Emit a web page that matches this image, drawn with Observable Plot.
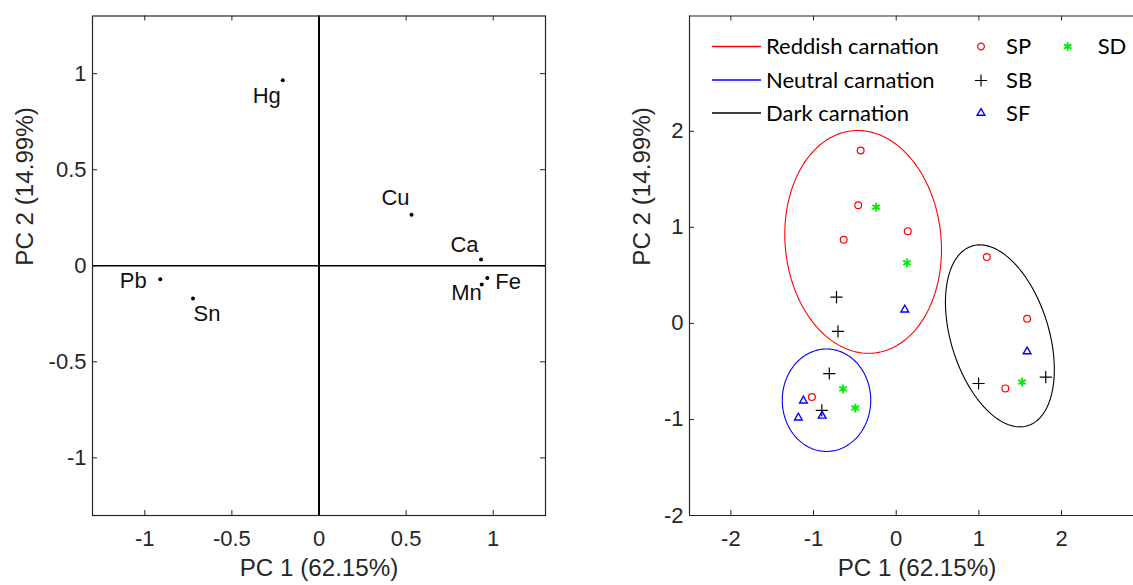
<!DOCTYPE html>
<html><head><meta charset="utf-8">
<script src="https://cdn.jsdelivr.net/npm/d3@7"></script>
<script src="https://cdn.jsdelivr.net/npm/@observablehq/plot@0.6"></script>
<style>
html,body{margin:0;padding:0;background:#fff;overflow:hidden;}
#wrap{position:relative;width:1133px;height:585px;overflow:hidden;background:#fff;}
#left{position:absolute;left:0;top:0;}
#right{position:absolute;left:567px;top:0;}
#legend{position:absolute;left:567px;top:0;pointer-events:none;}
</style></head>
<body><div id="wrap"><div id="left"></div><div id="right"></div><svg id="legend" width="566" height="140"></svg></div>
<script>
// ---------- Data: loadings (left panel) ----------
const elements = ["Hg", "Cu", "Ca", "Fe", "Mn", "Pb", "Sn"];
const loadPC1 = [-0.208, 0.531, 0.930, 0.966, 0.934, -0.911, -0.723];
const loadPC2 = [0.966, 0.265, 0.033, -0.064, -0.097, -0.070, -0.170];
const loadTicks = [-1, -0.5, 0, 0.5, 1];
const loadDomain = [-1.3, 1.3];

// ---------- Data: scores (right panel) ----------
const spPC1 = [-0.43, -0.46, -0.635, 0.14, 1.096, 1.583, 1.32, -1.02];
const spPC2 = [1.80, 1.23, 0.87, 0.96, 0.69, 0.049, -0.677, -0.766];
const sbPC1 = [-0.722, -0.704, -0.809, -0.90, 0.996, 1.809];
const sbPC2 = [0.274, -0.083, -0.522, -0.906, -0.626, -0.560];
const sfPC1 = [0.104, 1.583, -1.122, -1.183, -0.896];
const sfPC2 = [0.142, -0.293, -0.805, -0.982, -0.963];
const sdPC1 = [-0.243, 0.13, -0.643, -0.496, 1.522];
const sdPC2 = [1.21, 0.63, -0.681, -0.882, -0.611];
const scoreXTicks = [-2, -1, 0, 1, 2];
const scoreYTicks = [-2, -1, 0, 1, 2];
const scoreXDomain = [-2.5, 2.87];
const scoreYDomain = [-2, 3.2];

// confidence ellipses (center, semi-axes, rotation in degrees)
const groupNames = ["Reddish carnation", "Neutral carnation", "Dark carnation"];
const ellCX = [-0.40, -0.843, 1.254];
const ellCY = [0.848, -0.80, -0.13];
const ellA = [1.165, 0.535, 0.996];
const ellB = [0.941, 0.533, 0.582];
const ellAngle = [-80.7, 0, -67.6];

const seriesNames = ["SP", "SB", "SF", "SD"];
const axisLabelX = "PC 1 (62.15%)";
const axisLabelY = "PC 2 (14.99%)";

// ---------- styles ----------
const font = "'Liberation Sans', Arial, sans-serif";
const legendFont = "Lato, 'Open Sans', sans-serif";
const axisColor = "#262626";
const groupColors = ["#ff0000", "#0000ff", "#000000"];
const seriesStyle = {
  SP: {symbol: "circle", r: 3.4, stroke: "#ff0000", strokeWidth: 1.2},
  SB: {symbol: "plus", r: 4, stroke: "#000000", strokeWidth: 1.2},
  SF: {symbol: "triangle2", r: 3.7, stroke: "#0000ff", strokeWidth: 1.4},
  SD: {symbol: "asterisk", r: 4.1, stroke: "#00ee00", strokeWidth: 1.9}
};
const labelLayout = {
  Hg: {textAnchor: "end", dx: -2, dy: 16},
  Cu: {textAnchor: "end", dx: -2, dy: -17},
  Ca: {textAnchor: "end", dx: -2.5, dy: -14},
  Fe: {textAnchor: "start", dx: 8, dy: 4},
  Mn: {textAnchor: "end", dx: 0, dy: 9},
  Pb: {textAnchor: "end", dx: -13.5, dy: 1.5},
  Sn: {textAnchor: "start", dx: 0.5, dy: 16}
};
const fmt = d => String(d);
const H = 585, mt = 15.5, mb = 70, tickLen = 5;
const innerH = H - mt - mb;

// ---------- Left panel ----------
const W1 = 567, ml1 = 92, mr1 = 22, innerW1 = W1 - ml1 - mr1;
const loadings = elements.map((name, i) => ({name, pc1: loadPC1[i], pc2: loadPC2[i]}));

const left = Plot.plot({
  width: W1, height: H, marginTop: mt, marginBottom: mb, marginLeft: ml1, marginRight: mr1,
  style: {fontFamily: font, fontSize: "22px", color: axisColor, background: "white", overflow: "visible"},
  x: {domain: loadDomain},
  y: {domain: loadDomain},
  marks: [
    Plot.axisX({ticks: loadTicks, tickSize: 0, tickPadding: 15, label: null, tickFormat: fmt, fontSize: 22}),
    Plot.axisY({ticks: loadTicks, tickSize: 0, tickPadding: 6, label: null, tickFormat: fmt, fontSize: 22}),
    Plot.tickX(loadTicks, {x: d => d, insetTop: innerH - tickLen, stroke: axisColor}),
    Plot.tickX(loadTicks, {x: d => d, insetBottom: innerH - tickLen, stroke: axisColor}),
    Plot.tickY(loadTicks, {y: d => d, insetRight: innerW1 - tickLen, stroke: axisColor}),
    Plot.tickY(loadTicks, {y: d => d, insetLeft: innerW1 - tickLen, stroke: axisColor}),
    Plot.ruleX([0], {stroke: "#000", strokeWidth: 2}),
    Plot.ruleY([0], {stroke: "#000", strokeWidth: 1.5}),
    Plot.frame({stroke: axisColor, strokeWidth: 1.2}),
    Plot.dot(loadings, {x: "pc1", y: "pc2", r: 2, fill: "#000"}),
    ...elements.map(name => Plot.text(loadings.filter(d => d.name === name), {
      x: "pc1", y: "pc2", text: "name", fontSize: 22, fill: "#111", ...labelLayout[name]
    })),
    Plot.text([axisLabelX], {text: d => d, frameAnchor: "bottom", dy: 60, fontSize: 24.2, fill: axisColor}),
    Plot.text([axisLabelY], {text: d => d, frameAnchor: "left", dx: -67, rotate: -90, fontSize: 24.2, fill: axisColor})
  ]
});
document.getElementById("left").append(left);

// ---------- Right panel ----------
const W2 = 566, ml2 = 122, mr2 = 0, innerW2 = W2 - ml2 - mr2;
const scores = [
  ...spPC1.map((v, i) => ({series: "SP", pc1: v, pc2: spPC2[i]})),
  ...sbPC1.map((v, i) => ({series: "SB", pc1: v, pc2: sbPC2[i]})),
  ...sfPC1.map((v, i) => ({series: "SF", pc1: v, pc2: sfPC2[i]})),
  ...sdPC1.map((v, i) => ({series: "SD", pc1: v, pc2: sdPC2[i]}))
];
const ellipsePts = [];
groupNames.forEach((g, k) => {
  const th = ellAngle[k] * Math.PI / 180;
  for (let d = 0; d <= 360; d += 2) {
    const t = d * Math.PI / 180;
    const u = ellA[k] * Math.cos(t), v = ellB[k] * Math.sin(t);
    ellipsePts.push({group: g, x: ellCX[k] + u * Math.cos(th) - v * Math.sin(th), y: ellCY[k] + u * Math.sin(th) + v * Math.cos(th)});
  }
});

const right = Plot.plot({
  width: W2, height: H, marginTop: mt, marginBottom: mb, marginLeft: ml2, marginRight: mr2,
  style: {fontFamily: font, fontSize: "22px", color: axisColor, background: "white", overflow: "visible"},
  x: {domain: scoreXDomain},
  y: {domain: scoreYDomain},
  marks: [
    Plot.axisX({ticks: scoreXTicks, tickSize: 0, tickPadding: 15, label: null, tickFormat: fmt, fontSize: 22}),
    Plot.axisY({ticks: scoreYTicks, tickSize: 0, tickPadding: 6, label: null, tickFormat: fmt, fontSize: 22}),
    Plot.tickX(scoreXTicks, {x: d => d, insetTop: innerH - tickLen, stroke: axisColor}),
    Plot.tickX(scoreXTicks, {x: d => d, insetBottom: innerH - tickLen, stroke: axisColor}),
    Plot.tickY(scoreYTicks, {y: d => d, insetRight: innerW2 - tickLen, stroke: axisColor}),
    Plot.ruleY([scoreYDomain[1], scoreYDomain[0]], {stroke: axisColor, strokeWidth: 1.2}),
    Plot.ruleX([scoreXDomain[0]], {stroke: axisColor, strokeWidth: 1.2}),
    ...groupNames.map((g, k) => Plot.line(ellipsePts.filter(d => d.group === g), {x: "x", y: "y", stroke: groupColors[k], strokeWidth: 1.1})),
    ...seriesNames.map(s => Plot.dot(scores.filter(d => d.series === s), {x: "pc1", y: "pc2", fill: "none", ...seriesStyle[s]})),
    Plot.text([axisLabelX], {text: d => d, frameAnchor: "bottom", dx: 5.5, dy: 60, fontSize: 24.2, fill: axisColor}),
    Plot.text([axisLabelY], {text: d => d, frameAnchor: "left", dx: -47, rotate: -90, fontSize: 24.2, fill: axisColor})
  ]
});
document.getElementById("right").append(right);

// ---------- Legend (inside right panel) ----------
const leg = d3.select("#legend");
const rowY = [46.5, 80, 113];
groupNames.forEach((g, k) => {
  leg.append("line").attr("x1", 145).attr("x2", 194).attr("y1", rowY[k]).attr("y2", rowY[k])
    .attr("stroke", groupColors[k]).attr("stroke-width", 1.4);
  leg.append("text").attr("x", 199).attr("y", rowY[k]).attr("dy", "0.35em")
    .attr("font-family", legendFont).attr("font-size", 22).attr("fill", "#000").text(g);
});
const symMap = {circle: d3.symbolCircle, plus: d3.symbolPlus, triangle2: d3.symbolTriangle2, asterisk: d3.symbolAsterisk};
const symPos = {SP: [414, 46.5, 439], SB: [414, 80.5, 439], SF: [414, 113, 439], SD: [500.7, 46.5, 530.7]};
seriesNames.forEach(s => {
  const st = seriesStyle[s];
  const [sx, sy, tx] = symPos[s];
  leg.append("path").attr("d", d3.symbol(symMap[st.symbol], Math.PI * st.r * st.r)())
    .attr("transform", `translate(${sx},${sy})`).attr("fill", "none")
    .attr("stroke", st.stroke).attr("stroke-width", st.strokeWidth);
  leg.append("text").attr("x", tx).attr("y", sy).attr("dy", "0.35em")
    .attr("font-family", legendFont).attr("font-size", 22).attr("fill", "#000").text(s);
});
</script>
</body></html>
